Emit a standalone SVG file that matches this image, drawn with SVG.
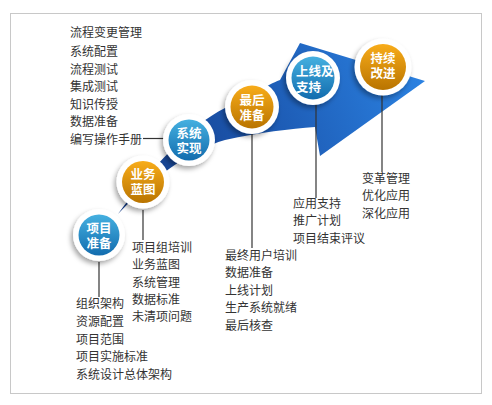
<svg xmlns="http://www.w3.org/2000/svg" width="492" height="405" viewBox="0 0 492 405">
<defs>
<style>
.lbl{font-family:"Noto Sans CJK SC","Noto Sans",sans-serif;font-size:12px;fill:#333}
.ct{font-family:"Noto Sans CJK SC","Noto Sans",sans-serif;font-size:12.5px;font-weight:bold;fill:#fff;text-anchor:middle}
.ring{fill:#fff;filter:url(#sh)}
.ln{stroke:#333;stroke-width:1.2;fill:none}
</style>
<filter id="sh" x="-40%" y="-40%" width="180%" height="180%">
<feDropShadow dx="-2" dy="3" stdDeviation="2.5" flood-color="#000" flood-opacity="0.35"/>
</filter>
<linearGradient id="band" gradientUnits="userSpaceOnUse" x1="118" y1="200" x2="425" y2="80">
<stop offset="0" stop-color="#163c85"/>
<stop offset="0.45" stop-color="#1b55ad"/>
<stop offset="1" stop-color="#2b82e2"/>
</linearGradient>
<linearGradient id="blue" x1="0" y1="0" x2="0" y2="1">
<stop offset="0" stop-color="#45b0e0"/>
<stop offset="1" stop-color="#126cae"/>
</linearGradient>
<linearGradient id="orange" x1="0" y1="0" x2="0" y2="1">
<stop offset="0" stop-color="#f8ac1a"/>
<stop offset="1" stop-color="#b97400"/>
</linearGradient>
</defs>
<rect x="10.5" y="13.5" width="471" height="380" fill="#fff" stroke="#c8c8c8" stroke-width="1"/>
<path d="M118,214 C150,170 190,125 225,108 S265,86 280,80 L300,43 L425,81 L320,156 L315,127 C290,129 260,132 225,140 C190,150 150,180 118,214 Z" fill="url(#band)"/>
<g id="connectors">
<line class="ln" x1="143" y1="138.5" x2="164" y2="138.5"/>
<line class="ln" x1="99" y1="262" x2="99" y2="297"/>
<line class="ln" x1="143" y1="210" x2="143" y2="240"/>
<line class="ln" x1="252" y1="134" x2="252" y2="248"/>
<line class="ln" x1="316" y1="104" x2="316" y2="198"/>
<line class="ln" x1="382" y1="95" x2="382" y2="172"/>
</g>
<g id="stage1">
<circle class="ring" cx="99" cy="235" r="26"/>
<circle cx="99" cy="235" r="20.5" fill="url(#blue)"/>
<text class="ct"><tspan x="99" y="233">项目</tspan><tspan x="99" y="248">准备</tspan></text>
<g class="lbl"><text x="76" y="308">组织架构</text><text x="76" y="326">资源配置</text><text x="76" y="344">项目范围</text><text x="76" y="361">项目实施标准</text><text x="76" y="379">系统设计总体架构</text></g>
</g>
<g id="stage2">
<circle class="ring" cx="143" cy="182" r="26.5"/>
<circle cx="143" cy="182" r="21" fill="url(#orange)"/>
<text class="ct"><tspan x="143" y="179">业务</tspan><tspan x="143" y="194">蓝图</tspan></text>
<g class="lbl"><text x="132" y="252">项目组培训</text><text x="132" y="269">业务蓝图</text><text x="132" y="287">系统管理</text><text x="132" y="304">数据标准</text><text x="132" y="321">未清项问题</text></g>
</g>
<g id="stage3">
<circle class="ring" cx="189" cy="140" r="26"/>
<circle cx="189" cy="140" r="20.5" fill="url(#blue)"/>
<text class="ct"><tspan x="189" y="138">系统</tspan><tspan x="189" y="153">实现</tspan></text>
<g class="lbl"><text x="70" y="37">流程变更管理</text><text x="70" y="56">系统配置</text><text x="70" y="74">流程测试</text><text x="70" y="91">集成测试</text><text x="70" y="109">知识传授</text><text x="70" y="126">数据准备</text><text x="70" y="144">编写操作手册</text></g>
</g>
<g id="stage4">
<circle class="ring" cx="252" cy="107" r="27"/>
<circle cx="252" cy="107" r="21.5" fill="url(#orange)"/>
<text class="ct"><tspan x="252" y="105">最后</tspan><tspan x="252" y="120">准备</tspan></text>
<g class="lbl"><text x="225" y="260">最终用户培训</text><text x="225" y="277">数据准备</text><text x="225" y="295">上线计划</text><text x="225" y="312">生产系统就绪</text><text x="225" y="330">最后核查</text></g>
</g>
<g id="stage5">
<circle class="ring" cx="313" cy="78" r="27"/>
<circle cx="313" cy="78" r="21.5" fill="url(#blue)"/>
<text class="ct" style="text-anchor:start"><tspan x="296" y="76">上线及</tspan><tspan x="296" y="92">支持</tspan></text>
<g class="lbl"><text x="293" y="208">应用支持</text><text x="293" y="225">推广计划</text><text x="293" y="243">项目结束评议</text></g>
</g>
<g id="stage6">
<circle class="ring" cx="383" cy="67" r="28.5"/>
<circle cx="383" cy="67" r="23" fill="url(#orange)"/>
<text class="ct"><tspan x="383" y="63">持续</tspan><tspan x="383" y="78">改进</tspan></text>
<g class="lbl"><text x="362" y="183">变革管理</text><text x="362" y="200">优化应用</text><text x="362" y="218">深化应用</text></g>
</g>
</svg>
